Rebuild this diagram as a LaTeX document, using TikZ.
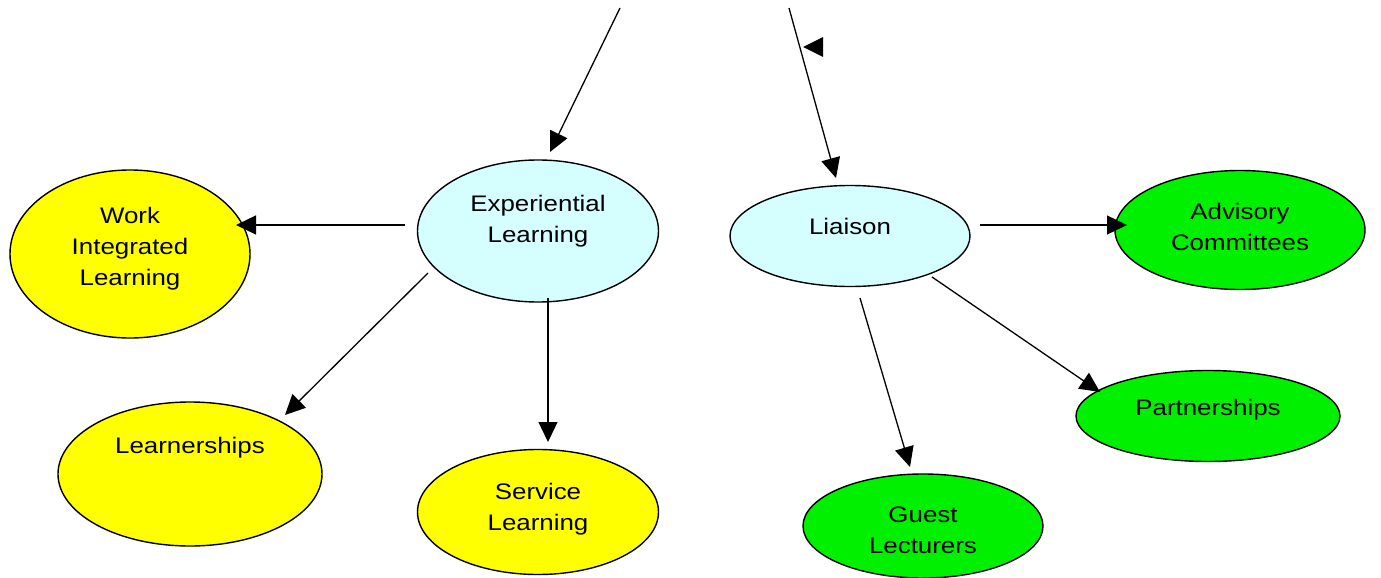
\documentclass[tikz,border=0pt]{standalone}
\usepackage{fontspec}
\setmainfont{Liberation Sans}[FakeStretch=1.15]
\usetikzlibrary{arrows.meta,shapes.geometric}
\definecolor{paleblue}{HTML}{D4FEFF}
\definecolor{yel}{HTML}{FFFF00}
\definecolor{grn}{HTML}{00F000}
\tikzset{
  bubble/.style={ellipse, draw=black, line width=1.4pt, inner sep=0pt},
  lbl/.style={align=center, inner sep=0pt, font=\fontsize{22.5}{31}\selectfont},
  arr/.style={line width=1.3pt, -{Triangle[length=20pt,width=19pt]}},
}
\begin{document}
\begin{tikzpicture}[x=1pt,y=-1pt]
\useasboundingbox (0,0) rectangle (1381,578);

% ellipses
\node[bubble, fill=yel, minimum width=240pt, minimum height=168pt] (wil) at (130,254) {};
\node[bubble, fill=paleblue, minimum width=241pt, minimum height=142pt] (el) at (538,231) {};
\node[bubble, fill=paleblue, minimum width=240pt, minimum height=101pt] (lia) at (850,236) {};
\node[bubble, fill=grn, minimum width=250pt, minimum height=119pt] (adv) at (1240,230) {};
\node[bubble, fill=yel, minimum width=264pt, minimum height=144pt] (lrn) at (190,474) {};
\node[bubble, fill=yel, minimum width=241pt, minimum height=125pt] (svc) at (538,512) {};
\node[bubble, fill=grn, minimum width=264pt, minimum height=91pt] (prt) at (1208,416) {};
\node[bubble, fill=grn, minimum width=240pt, minimum height=104pt] (gst) at (923,526) {};

% labels
\node[lbl] (wilt) at (130,249) {Work\\Integrated\\Learning};
\node[lbl] (elt) at (538,221) {Experiential\\Learning};
\node[lbl] (liat) at (850,226) {Liaison};
\node[lbl] (advt) at (1240,227) {Advisory\\Committees};
\node[lbl] (lrnt) at (190,448) {Learnerships};
\node[lbl] (svct) at (538,509) {Service\\Learning};
\node[lbl] (prtt) at (1208,410) {Partnerships};
\node[lbl] (gstt) at (923,530) {Guest\\Lecturers};

% incoming lines from above
\coordinate (t1) at (620,8);
\coordinate (t2) at (789,8);
\draw[arr] (t1) -- ([shift={(12,-79)}]el.center);
\draw[arr] (t2) -- ([shift={(-14,-58)}]lia.center);
\fill (803,47) -- (823,37) -- (823,57) -- cycle;

% connectors
\draw[arr] ([shift={(-133,-6)}]el.center) -- ([shift={(106,-29)}]wil.center);
\draw[arr] ([shift={(-110,42)}]el.center) -- ([shift={(95,-59)}]lrn.center);
\draw[arr] ([shift={(10,67)}]el.center) -- ([shift={(10,-70)}]svc.center);
\draw[arr] ([shift={(130,-11)}]lia.center) -- ([shift={(-113,-5)}]adv.center);
\draw[arr] ([shift={(10,62)}]lia.center) -- ([shift={(-13,-59)}]gst.center);
\draw[arr] ([shift={(82,41)}]lia.center) -- ([shift={(-108,-24)}]prt.center);
\end{tikzpicture}
\end{document}
